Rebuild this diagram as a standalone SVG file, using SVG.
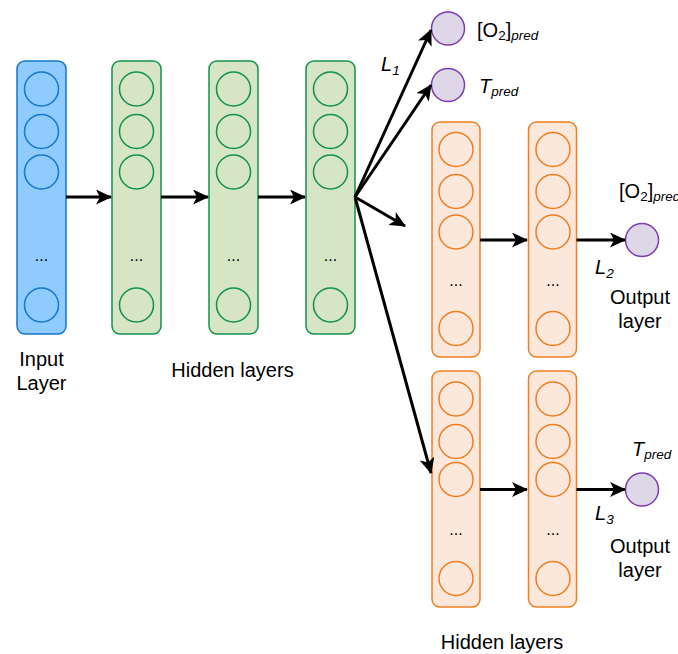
<svg xmlns="http://www.w3.org/2000/svg" width="678" height="654" viewBox="0 0 678 654">
<defs>
<marker id="ah" markerUnits="userSpaceOnUse" viewBox="0 0 16 15" refX="15" refY="7.5" markerWidth="16" markerHeight="15" orient="auto">
<path d="M0,0 L16,7.5 L0,15 L4,7.5 z" fill="#000"/>
</marker>
</defs>
<style>
text{font-family:"Liberation Sans",Arial,sans-serif;fill:#000}
.lbl{font-size:20px;text-anchor:middle}
.dots{font-size:16px;text-anchor:middle}
.math{font-size:20px}
.it{font-style:italic}
.sub{font-size:13.5px}
.blue rect{fill:#8FCBFF;stroke:#1577CE;stroke-width:1.5}
.blue circle{fill:none;stroke:#1577CE;stroke-width:1.5}
.green rect{fill:#D6E5C4;stroke:#12924A;stroke-width:1.5}
.green circle{fill:none;stroke:#12924A;stroke-width:1.5}
.orange rect{fill:#FCE8DA;stroke:#F07E22;stroke-width:1.5}
.orange circle{fill:none;stroke:#F07E22;stroke-width:1.5}
.out{fill:#DED7E8;stroke:#7D3CB4;stroke-width:1.5}
.conn path{fill:none;stroke:#000;stroke-width:3;marker-end:url(#ah)}
</style>

<g id="input-layer" class="blue">
<rect x="17" y="61" width="49" height="273" rx="8"/>
<circle cx="41.5" cy="89" r="17"/>
<circle cx="41.5" cy="131.5" r="17"/>
<circle cx="41.5" cy="172" r="17"/>
<text class="dots" x="41.5" y="261">...</text>
<circle cx="41.5" cy="305" r="17"/>
</g>

<g id="hidden-1" class="green">
<rect x="112" y="61" width="49" height="273" rx="8"/>
<circle cx="136.5" cy="89" r="17"/>
<circle cx="136.5" cy="131.5" r="17"/>
<circle cx="136.5" cy="172" r="17"/>
<text class="dots" x="136.5" y="261">...</text>
<circle cx="136.5" cy="305" r="17"/>
</g>

<g id="hidden-2" class="green">
<rect x="209" y="61" width="49" height="273" rx="8"/>
<circle cx="233.5" cy="89" r="17"/>
<circle cx="233.5" cy="131.5" r="17"/>
<circle cx="233.5" cy="172" r="17"/>
<text class="dots" x="233.5" y="261">...</text>
<circle cx="233.5" cy="305" r="17"/>
</g>

<g id="hidden-3" class="green">
<rect x="306" y="61" width="49" height="273" rx="8"/>
<circle cx="330.5" cy="89" r="17"/>
<circle cx="330.5" cy="131.5" r="17"/>
<circle cx="330.5" cy="172" r="17"/>
<text class="dots" x="330.5" y="261">...</text>
<circle cx="330.5" cy="305" r="17"/>
</g>

<g id="out-o2-l1">
<circle class="out" cx="448" cy="28.5" r="16.5"/>
</g>
<g id="out-t-l1">
<circle class="out" cx="448" cy="85" r="16.5"/>
</g>

<g id="o2-hidden-1" class="orange">
<rect x="432" y="122" width="48" height="235" rx="8"/>
<circle cx="456" cy="149.5" r="17"/>
<circle cx="456" cy="191.5" r="17"/>
<circle cx="456" cy="232" r="17"/>
<text class="dots" x="456" y="286">...</text>
<circle cx="456" cy="328.5" r="17"/>
</g>

<g id="o2-hidden-2" class="orange">
<rect x="528.5" y="122" width="48" height="235" rx="8"/>
<circle cx="553" cy="149.5" r="17"/>
<circle cx="553" cy="191.5" r="17"/>
<circle cx="553" cy="232" r="17"/>
<text class="dots" x="553" y="286">...</text>
<circle cx="553" cy="328.5" r="17"/>
</g>

<g id="out-o2">
<circle class="out" cx="642" cy="240" r="16.5"/>
</g>

<g id="t-hidden-1" class="orange">
<rect x="432" y="371" width="48" height="236" rx="8"/>
<circle cx="456" cy="399" r="17"/>
<circle cx="456" cy="441.5" r="17"/>
<circle cx="456" cy="479.5" r="17"/>
<text class="dots" x="456" y="535">...</text>
<circle cx="456" cy="578.5" r="17"/>
</g>

<g id="t-hidden-2" class="orange">
<rect x="528.5" y="371" width="48" height="236" rx="8"/>
<circle cx="553" cy="399" r="17"/>
<circle cx="553" cy="441.5" r="17"/>
<circle cx="553" cy="479.5" r="17"/>
<text class="dots" x="553" y="535">...</text>
<circle cx="553" cy="578.5" r="17"/>
</g>

<g id="out-t">
<circle class="out" cx="642" cy="489.5" r="16.5"/>
</g>

<g id="connectors" class="conn">
<path d="M66,197 L111,197"/>
<path d="M161,197 L208,197"/>
<path d="M258,197 L305,197"/>
<path d="M355,197 L431,30"/>
<path d="M355,197 L431,85"/>
<path d="M355,197 L405,226"/>
<path d="M355,197 L431,473"/>
<path d="M480,240 L527,240"/>
<path d="M576.5,240 L625,240"/>
<path d="M480,489.5 L527,489.5"/>
<path d="M576.5,489.5 L625,489.5"/>
</g>

<g id="labels">
<text class="lbl" x="41.5" y="366">Input</text>
<text class="lbl" x="41.5" y="390">Layer</text>
<text class="lbl" x="232.5" y="377">Hidden layers</text>
<text class="lbl" x="502" y="649">Hidden layers</text>
<text class="lbl" x="640" y="304">Output</text>
<text class="lbl" x="640" y="328">layer</text>
<text class="lbl" x="640" y="553">Output</text>
<text class="lbl" x="640" y="577">layer</text>

<text class="math" x="381" y="71"><tspan class="it">L</tspan><tspan class="sub it" dy="4">1</tspan></text>
<text class="math" x="595" y="274"><tspan class="it">L</tspan><tspan class="sub it" dy="4">2</tspan></text>
<text class="math" x="595" y="520"><tspan class="it">L</tspan><tspan class="sub it" dy="4">3</tspan></text>

<text class="math" x="477" y="37">[O<tspan class="sub" dy="3">2</tspan><tspan dy="-3">]</tspan><tspan class="sub it" dy="3">pred</tspan></text>
<text class="math" x="479" y="93"><tspan class="it">T</tspan><tspan class="sub it" dy="3">pred</tspan></text>
<text class="math" x="619" y="198">[O<tspan class="sub" dy="3">2</tspan><tspan dy="-3">]</tspan><tspan class="sub it" dy="3">pred</tspan></text>
<text class="math" x="632" y="456"><tspan class="it">T</tspan><tspan class="sub it" dy="3">pred</tspan></text>
</g>
</svg>
